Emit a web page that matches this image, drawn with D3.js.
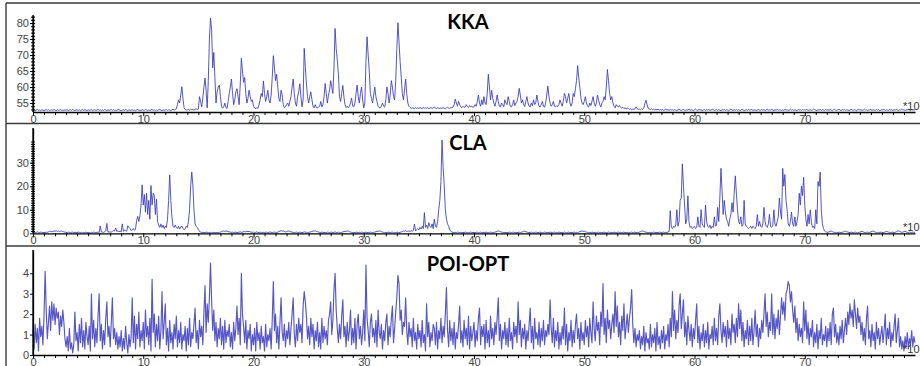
<!DOCTYPE html>
<html><head><meta charset="utf-8">
<script src="https://cdn.jsdelivr.net/npm/d3@7"></script>
<style>body{margin:0;background:#fff;overflow:hidden} svg{display:block}</style>
</head><body>
<svg id="chart" width="920" height="366"></svg>
<script>
// ---- data (x sampled from 0 to 80 in steps of 0.1, x-axis unit = *10^3) ----
const xStart = 0, xStep = 0.1;
const xTickLabels = [0,10,20,30,40,50,60,70];
const titles = ["KKA","CLA","POI-OPT"];

const kkaValues = [
52.7,52.9,52.6,52.8,53.0,52.7,52.8,52.6,52.9,52.8,
52.6,52.8,53.0,52.7,52.9,52.6,52.8,52.9,52.7,53.0,
52.8,52.6,52.9,52.7,52.8,53.0,52.6,52.8,52.7,52.9,
52.7,52.9,52.6,52.8,52.9,52.7,53.0,52.8,52.6,52.9,
52.8,52.7,52.9,52.6,52.8,53.0,52.7,52.9,52.8,52.6,
52.9,52.7,52.8,53.0,52.6,52.8,52.9,52.7,52.8,53.0,
52.7,52.9,52.6,52.8,52.7,53.0,52.8,52.6,52.9,52.7,
52.8,53.0,52.7,52.9,52.6,52.8,52.7,52.9,53.0,52.7,
52.6,52.8,52.9,52.7,53.0,52.8,52.6,52.9,52.7,52.8,
52.9,52.7,52.8,52.6,52.9,53.0,52.7,52.8,52.6,52.9,
52.8,52.7,53.0,52.8,52.6,52.9,52.7,52.8,53.0,52.7,
52.9,52.6,52.8,52.7,52.9,53.0,52.8,52.6,52.9,52.7,
52.8,53.0,52.7,52.9,52.8,52.6,52.9,53.1,52.8,53.0,
53.2,54.5,56.0,55.0,57.5,60.1,56.5,53.6,53.0,52.8,
52.9,53.0,52.8,53.1,52.9,53.0,52.8,53.0,53.2,52.9,
53.1,57.0,55.5,53.8,56.5,59.8,62.8,59.0,53.5,62.0,
75.0,81.5,78.0,66.0,70.8,63.0,55.0,58.5,60.0,60.6,
57.0,54.0,53.4,53.8,55.0,53.6,53.3,55.5,58.0,60.0,
62.5,58.0,54.5,56.0,58.5,59.5,57.0,54.5,61.0,69.0,
65.0,61.5,63.0,58.0,55.0,56.5,59.0,57.0,55.5,56.0,
54.0,53.4,53.2,53.6,53.3,54.5,56.0,58.0,57.0,61.9,
58.0,55.5,57.0,59.0,56.0,55.0,57.5,63.0,69.8,66.0,
62.0,64.0,60.0,56.5,55.5,59.0,57.5,54.5,53.5,53.8,
54.5,55.0,54.0,55.5,57.0,60.0,62.5,58.0,55.0,54.0,
57.0,58.5,61.0,57.0,53.8,56.0,72.1,66.4,61.0,57.0,
55.0,57.0,58.5,56.0,54.0,53.5,54.5,53.6,53.4,53.8,
54.0,55.5,53.8,54.5,57.0,61.1,58.0,55.0,57.5,59.0,
62.0,60.0,58.0,66.0,78.3,72.0,68.4,64.0,57.0,55.5,
58.0,60.5,57.0,54.5,53.6,54.0,53.5,54.0,55.0,56.5,
54.0,53.8,55.0,58.0,60.6,57.0,55.0,58.0,60.0,56.0,
53.5,55.0,68.0,75.7,70.0,65.0,58.0,56.5,55.0,57.5,
60.0,57.0,55.5,54.0,53.6,53.5,54.0,55.0,54.0,53.7,
56.0,60.0,58.0,55.0,57.5,62.0,60.0,57.0,56.0,62.0,
72.0,80.1,74.0,68.0,63.0,58.0,56.0,59.0,62.5,58.0,
55.0,54.0,53.6,53.3,53.5,53.4,53.2,53.6,53.3,53.5,
53.3,53.6,53.4,53.2,53.7,53.4,53.5,53.3,53.6,53.2,
53.4,53.6,53.3,53.5,53.8,53.4,53.2,53.6,53.4,53.3,
53.5,53.3,53.6,53.4,53.2,53.5,53.7,53.4,53.3,53.6,
53.5,53.8,54.5,56.2,55.0,54.0,55.5,54.5,53.8,53.6,
54.0,53.6,53.8,54.5,53.9,53.6,54.2,53.8,54.0,53.7,
53.8,54.5,54.0,55.5,57.5,55.0,54.0,56.0,54.5,57.0,
55.0,54.5,58.0,64.0,60.0,56.0,59.0,56.5,55.0,54.0,
55.5,57.5,55.5,54.0,53.8,55.0,54.5,53.8,56.0,55.0,
54.5,57.0,55.5,54.0,53.8,54.5,56.0,54.2,55.0,55.5,
57.0,59.6,57.5,55.0,56.0,54.5,53.9,55.5,57.0,55.0,
54.0,53.8,55.0,54.2,56.0,54.5,55.0,57.5,55.5,54.0,
53.8,54.5,55.5,54.0,53.7,55.0,57.5,60.3,57.0,55.0,
54.0,54.5,55.5,54.0,53.8,54.2,53.9,54.5,56.0,55.0,
54.0,55.5,58.0,57.0,55.0,56.5,58.0,55.0,54.0,55.0,
58.0,57.0,59.5,62.0,66.7,63.0,60.0,56.5,55.0,54.5,
55.5,57.0,55.0,54.0,53.8,55.0,54.2,55.5,57.0,55.0,
54.0,55.0,57.5,56.0,54.5,53.8,55.0,55.5,57.0,56.0,
60.0,65.5,62.0,58.0,56.0,57.0,55.0,54.0,53.5,54.5,
54.0,53.8,54.2,53.6,53.4,53.7,53.3,53.5,53.2,53.4,
53.3,53.0,53.2,52.9,53.1,53.0,53.2,53.8,53.3,53.0,
53.1,52.9,53.2,53.0,53.5,54.8,55.9,54.5,53.4,53.2,
53.0,53.2,52.9,53.1,52.8,53.0,52.9,53.1,52.8,53.0,
52.8,53.0,52.7,52.9,53.1,52.8,52.9,52.7,53.0,52.8,
52.9,52.7,53.0,52.8,52.6,52.9,53.1,52.8,52.7,52.9,
53.0,52.8,52.7,52.9,52.8,53.1,52.7,52.9,52.8,52.6,
52.9,53.1,52.8,52.7,53.0,52.8,52.9,52.6,52.8,53.0,
52.7,52.9,52.8,53.0,52.7,52.8,53.1,52.9,52.7,52.8,
53.0,52.7,52.9,52.8,52.6,52.9,52.8,53.0,52.7,52.9,
52.8,52.6,52.9,53.1,52.8,52.7,52.9,52.8,53.0,52.7,
52.9,52.8,52.7,53.0,52.9,52.6,52.8,52.9,52.7,53.1,
52.8,52.9,53.0,52.7,52.8,52.9,52.6,52.8,53.0,52.8,
52.7,53.0,52.8,52.9,52.7,52.8,53.1,52.7,52.9,52.8,
53.0,52.8,52.6,52.9,52.8,53.0,52.7,52.9,52.8,52.7,
52.9,52.7,53.0,52.8,52.9,52.7,52.8,53.1,52.8,52.9,
52.7,52.9,52.8,52.6,53.0,52.8,52.9,52.7,53.0,52.8,
52.9,52.8,53.0,52.7,52.8,52.9,52.7,52.8,53.1,52.9,
52.8,52.6,52.9,52.8,53.0,52.7,52.9,52.8,52.7,53.0,
52.8,52.9,52.7,53.0,52.8,52.6,52.9,53.0,52.8,52.7,
52.9,53.1,52.8,52.7,52.9,52.8,53.0,52.7,52.9,52.8,
52.7,52.8,53.0,52.9,52.7,52.9,52.8,52.6,52.9,53.0,
52.8,52.9,52.7,52.8,53.1,52.8,52.9,52.7,52.8,52.9,
53.0,52.7,52.9,52.8,52.7,53.0,52.8,52.9,52.6,52.8,
52.9,52.8,53.0,52.7,52.9,52.8,52.7,53.0,52.8,52.9,
52.7,52.9,52.8,53.0,52.8,52.7,52.9,52.8,53.1,52.8,
52.9,52.7,52.8,52.9,53.0,52.8,52.7,52.9,52.8,52.9,
52.8];

const claValues = [
0.4,0.5,0.3,0.4,0.6,0.4,0.3,0.5,0.4,0.3,
0.4,0.3,0.5,0.4,0.6,0.8,0.9,0.7,0.8,1.0,
0.9,1.1,0.8,1.0,0.7,0.9,1.0,0.8,0.6,0.5,
0.4,0.3,0.5,0.4,0.3,0.4,0.5,0.3,0.4,0.4,
0.3,0.5,0.4,0.3,0.4,0.2,0.4,0.3,0.5,0.3,
0.4,0.3,0.2,0.4,0.3,0.5,0.4,0.3,0.4,0.5,
0.4,3.1,0.6,0.5,0.4,0.7,1.0,4.2,0.6,0.5,
0.6,0.5,0.8,1.2,0.9,2.2,0.8,1.0,0.7,0.9,
0.6,4.0,0.8,1.5,1.0,0.9,3.2,2.5,2.0,1.2,
1.5,2.0,1.2,1.8,5.5,7.2,5.0,7.5,12.0,20.6,
12.0,16.5,9.0,17.0,8.0,14.0,6.0,20.3,12.0,17.0,
16.0,8.0,14.5,5.0,3.5,2.5,4.0,2.5,3.5,2.0,
3.0,2.5,6.0,14.0,24.8,14.0,7.0,3.0,2.5,3.5,
2.5,2.0,3.0,1.8,2.8,3.0,2.2,1.5,2.0,3.0,
2.5,5.0,10.0,20.0,26.0,20.5,10.0,4.0,3.0,2.5,
1.5,0.8,0.5,0.4,0.3,0.4,0.3,0.5,0.4,0.3,
0.3,0.4,0.2,0.3,0.4,0.3,0.2,0.4,0.3,0.4,
0.5,0.7,0.9,1.0,0.8,1.0,0.9,0.7,0.6,0.5,
0.4,0.5,0.3,0.4,0.5,0.3,0.4,0.5,0.6,0.4,
0.5,0.7,0.8,0.6,0.9,0.7,0.8,0.6,0.5,0.4,
0.5,0.3,0.4,0.6,0.4,0.3,0.5,0.4,0.3,0.4,
0.3,0.4,0.5,0.3,0.4,0.6,0.4,0.3,0.4,0.5,
0.4,0.3,0.5,0.7,0.9,1.1,0.9,1.0,0.8,0.6,
0.7,0.9,1.0,0.8,0.6,0.5,0.4,0.3,0.4,0.5,
0.4,0.3,0.5,0.4,0.3,0.4,0.6,0.5,0.4,0.3,
0.4,0.5,0.6,0.8,1.0,0.9,1.1,0.8,0.7,0.5,
0.4,0.3,0.5,0.4,0.3,0.4,0.3,0.5,0.4,0.3,
0.4,0.5,0.3,0.4,0.6,0.4,0.3,0.5,0.4,0.3,
0.4,0.6,0.7,0.9,0.8,1.0,0.9,0.7,0.5,0.4,
0.3,0.4,0.3,0.5,0.4,0.3,0.4,0.3,0.5,0.4,
0.3,0.4,0.5,0.3,0.4,0.3,0.5,0.4,0.3,0.4,
0.5,0.7,0.9,0.8,1.0,0.9,0.7,0.5,0.4,0.3,
0.4,0.3,0.5,0.4,0.3,0.4,0.5,0.3,0.4,0.3,
0.4,0.5,0.3,0.4,0.6,0.8,1.0,0.9,1.1,0.8,
0.9,1.0,0.8,1.1,0.9,1.2,3.9,1.0,1.5,2.0,
1.5,2.5,1.8,3.0,2.0,8.8,2.5,3.5,2.0,4.5,
3.0,2.5,4.0,2.0,6.0,3.0,2.5,5.0,10.0,14.0,
22.0,39.7,28.0,20.5,10.0,6.0,4.0,3.0,1.5,0.8,
0.5,0.4,0.3,0.4,0.3,0.5,0.4,0.3,0.4,0.3,
0.4,0.3,0.5,0.4,0.3,0.4,0.3,0.5,0.4,0.3,
0.4,0.3,0.4,0.5,0.3,0.4,0.5,0.3,0.4,0.3,
0.4,0.5,0.3,0.4,0.3,0.5,0.4,0.3,0.4,0.5,
0.6,0.8,1.0,0.9,0.7,0.5,0.4,0.3,0.4,0.3,
0.4,0.3,0.5,0.4,0.3,0.4,0.5,0.3,0.4,0.3,
0.4,0.5,0.3,0.4,0.6,0.8,0.9,0.7,0.5,0.4,
0.3,0.4,0.5,0.3,0.4,0.3,0.5,0.4,0.3,0.4,
0.5,0.3,0.4,0.3,0.5,0.4,0.3,0.4,0.3,0.5,
0.4,0.3,0.4,0.5,0.3,0.4,0.3,0.5,0.4,0.3,
0.4,0.3,0.5,0.4,0.3,0.4,0.5,0.3,0.4,0.3,
0.4,0.5,0.3,0.4,0.3,0.5,0.7,0.9,1.0,0.8,
0.9,0.7,0.5,0.4,0.3,0.4,0.3,0.5,0.4,0.3,
0.4,0.3,0.4,0.5,0.3,0.4,0.3,0.4,0.5,0.3,
0.4,0.3,0.5,0.4,0.3,0.4,0.3,0.5,0.4,0.3,
0.4,0.5,0.3,0.4,0.3,0.4,0.5,0.3,0.4,0.3,
0.4,0.3,0.4,0.5,0.3,0.4,0.5,0.3,0.4,0.3,
0.5,0.7,0.9,1.0,0.8,0.6,0.5,0.4,0.3,0.4,
0.3,0.4,0.3,0.5,0.4,0.3,0.4,0.3,0.5,0.4,
0.3,0.4,0.5,0.3,0.4,0.3,0.6,0.8,9.6,2.5,
2.0,3.0,2.5,3.5,10.0,3.0,5.0,14.0,15.0,29.5,
20.0,12.0,4.0,6.0,15.9,5.0,2.5,3.0,2.0,2.5,
3.0,2.0,2.5,7.0,3.0,2.5,10.0,4.0,3.0,2.5,
12.0,5.0,3.0,2.5,3.5,2.0,3.0,2.5,7.0,3.0,
3.5,11.0,5.0,15.0,27.6,18.0,8.0,14.0,9.0,6.0,
5.0,3.0,6.0,8.0,13.0,9.0,17.0,24.4,17.0,10.0,
5.0,4.0,7.0,3.0,3.5,14.0,4.0,3.0,2.5,2.0,
2.5,3.0,2.0,3.0,2.5,2.0,3.0,8.0,3.0,5.0,
3.0,2.5,4.0,11.0,5.0,3.0,2.5,4.0,8.0,3.0,
2.5,3.0,10.0,4.0,3.0,5.0,7.0,15.0,9.0,6.0,
27.6,20.0,25.0,14.0,10.0,4.0,3.0,5.0,9.0,4.0,
3.0,7.0,3.0,5.0,8.0,17.0,12.0,20.0,16.0,23.8,
12.0,6.0,3.0,8.0,4.0,10.0,5.0,2.5,3.0,2.0,
10.0,4.0,22.0,20.0,26.0,10.0,4.0,2.0,1.0,0.6,
0.5,0.4,0.6,0.8,1.0,0.7,0.5,0.4,0.3,0.4,
0.3,0.5,0.4,0.3,0.4,0.6,0.8,0.9,0.7,0.5,
0.4,0.3,0.5,0.4,0.3,0.4,0.5,0.3,0.4,0.3,
0.5,0.7,0.8,0.6,0.4,0.3,0.4,0.5,0.3,0.4,
0.6,0.8,1.0,0.7,0.5,0.4,0.3,0.4,0.3,0.5,
0.4,0.3,0.4,0.6,0.8,0.7,0.5,0.4,0.3,0.4,
0.5,0.3,0.4,0.6,0.9,1.0,0.8,0.6,0.4,0.5,
0.7,0.9,0.6,0.4,0.3,0.5,0.4,0.3,0.5,0.4,
0.4];

const poiValues = [
1.2,0.3,1.5,0.6,1.3,0.2,1.8,0.9,1.4,0.5,
1.9,4.1,2.2,0.8,1.6,2.4,1.2,2.6,1.7,2.5,
1.5,2.3,1.8,2.1,1.0,1.9,1.4,2.2,1.6,0.8,
0.4,0.9,0.2,1.3,0.3,0.6,0.1,0.5,2.1,0.7,
1.1,0.2,1.5,0.6,1.8,0.4,1.2,0.3,1.6,0.9,
0.5,1.4,0.2,3.0,0.8,1.7,0.4,1.3,0.6,1.9,
3.0,0.7,1.5,0.3,1.2,0.5,1.8,2.6,0.9,1.4,
0.4,1.6,2.8,0.8,1.3,0.5,1.1,0.3,0.9,0.4,
1.2,0.2,0.8,0.3,1.4,0.6,0.1,1.0,0.4,0.9,
2.8,0.6,1.9,0.3,1.5,0.8,2.1,0.4,1.2,0.7,
1.6,0.3,2.2,0.9,1.4,0.5,1.8,0.2,3.7,1.1,
2.0,0.4,1.5,0.7,1.9,0.3,1.2,3.1,0.8,1.6,
2.5,0.5,1.3,0.2,1.7,0.6,1.1,0.3,1.5,0.8,
1.9,0.4,1.2,0.6,1.6,0.3,1.0,0.7,1.4,0.2,
1.3,0.5,1.8,0.4,1.1,0.8,1.5,2.3,0.6,1.2,
0.3,1.7,0.9,1.4,0.5,2.0,3.4,1.1,2.5,1.6,
2.8,4.5,2.7,1.2,2.2,0.7,1.6,0.4,1.3,0.8,
1.8,0.5,1.4,0.3,1.7,0.6,1.2,0.9,1.5,0.4,
1.1,0.3,1.6,0.7,1.3,2.4,1.0,1.8,0.5,4.0,
2.0,1.4,0.6,1.7,0.3,1.2,0.8,1.5,0.2,1.0,
0.5,1.3,0.2,1.6,0.7,1.1,0.3,1.4,0.6,0.9,
0.2,1.5,0.4,1.0,0.7,1.3,0.3,1.7,3.6,1.2,
2.0,0.6,1.4,0.3,1.6,2.8,1.1,0.7,1.5,0.4,
1.2,0.8,1.6,0.5,1.3,2.0,2.8,1.0,0.4,1.5,
0.7,1.8,1.1,1.5,0.6,2.4,3.1,2.6,1.9,0.8,
1.4,0.5,1.8,0.9,1.5,0.3,1.2,0.7,1.6,0.4,
1.1,0.3,1.8,0.6,1.4,0.8,1.2,0.5,1.7,2.0,
2.6,1.0,1.7,3.2,4.0,2.2,1.3,0.6,1.5,0.8,
1.9,2.7,0.9,1.4,0.4,1.6,0.7,1.2,2.2,0.5,
1.3,0.6,1.8,0.3,1.5,2.0,0.8,1.4,0.5,1.1,
2.2,0.7,4.4,1.8,1.2,0.4,1.6,2.0,0.9,1.3,
0.6,1.7,0.4,2.2,1.1,0.8,1.5,0.3,1.2,0.7,
1.6,2.0,0.5,1.4,0.9,1.8,2.4,0.6,1.3,2.1,
2.8,3.9,3.5,1.7,2.2,1.0,1.6,1.4,2.8,1.2,
0.5,1.6,0.9,1.3,0.4,1.8,0.7,1.1,0.3,1.5,
0.8,1.2,0.4,1.7,0.6,1.0,0.2,2.5,0.9,1.6,
0.4,1.1,0.7,1.5,1.3,0.5,1.6,0.3,1.2,0.8,
1.8,0.6,1.4,0.9,2.0,3.3,1.2,0.4,1.7,0.7,
1.3,0.5,1.6,0.3,1.1,0.8,1.5,2.4,0.6,1.2,
0.4,1.7,0.8,1.3,0.5,1.9,0.3,1.4,0.7,1.1,
1.6,0.4,1.2,0.7,1.8,2.3,0.5,1.4,0.9,1.5,
0.3,1.7,0.6,1.2,0.4,1.9,0.8,1.3,0.5,1.6,
1.0,1.8,2.8,0.7,1.5,0.3,1.2,0.8,1.6,0.5,
1.3,0.4,1.8,0.7,1.1,0.3,1.6,0.9,1.4,0.6,
2.6,1.0,1.7,0.4,1.3,0.8,1.5,0.3,1.2,0.7,
1.5,2.3,0.6,1.4,0.3,1.8,0.8,1.1,0.5,1.6,
0.4,1.3,0.7,1.7,0.5,1.2,0.9,1.5,1.0,2.7,
1.3,0.6,1.8,0.4,1.2,0.7,1.6,0.3,1.1,0.5,
1.4,0.8,2.3,0.5,1.5,0.2,1.1,0.7,1.7,0.4,
1.2,0.6,1.5,2.0,0.8,1.3,0.3,1.6,0.7,1.1,
0.5,1.7,0.9,1.4,0.4,1.8,1.1,0.6,2.6,1.3,
0.7,1.9,1.2,1.6,0.5,2.1,1.4,3.5,1.0,1.8,
0.6,2.2,1.3,1.7,0.8,1.5,2.0,1.1,3.1,1.4,
2.4,0.9,1.6,0.5,1.9,1.2,2.5,0.8,1.4,2.0,
1.1,1.8,2.3,3.2,1.5,0.6,1.3,0.4,1.0,0.7,
1.2,0.3,0.9,0.5,1.4,0.2,1.1,0.6,0.8,0.3,
1.5,0.4,1.0,0.6,1.3,0.2,1.6,0.5,0.9,0.3,
1.2,0.6,1.4,0.3,1.0,0.7,1.5,0.4,1.8,0.9,
3.1,1.2,2.2,0.8,1.7,1.1,2.4,3.0,1.3,2.0,
2.7,0.9,1.6,0.5,1.9,1.2,0.7,1.5,0.4,1.3,
0.8,1.7,2.5,0.6,1.4,0.3,1.1,0.7,1.5,0.4,
1.2,0.6,1.6,0.3,1.0,0.8,1.4,0.5,1.8,0.7,
1.3,0.5,1.9,2.5,1.2,0.6,1.6,0.9,1.4,0.4,
1.7,0.8,1.3,0.5,2.0,1.1,1.5,0.6,1.8,0.9,
2.5,1.3,2.2,0.7,1.6,0.4,1.2,0.8,1.7,0.5,
1.4,0.7,1.8,0.5,1.2,2.2,0.9,1.5,0.4,1.3,
0.8,1.7,1.1,2.0,3.0,1.4,2.1,0.9,1.6,1.2,
3.0,1.0,2.0,0.8,1.8,1.3,2.2,1.0,1.9,2.8,
2.0,2.6,1.7,3.0,3.2,3.6,3.4,2.6,3.1,2.2,
1.6,2.4,1.1,1.8,0.7,1.5,0.9,1.3,0.6,2.6,
1.2,2.2,0.8,1.6,0.5,1.3,0.9,1.7,0.4,1.1,
0.6,1.5,0.3,1.2,0.8,1.8,0.5,1.0,0.7,1.4,
0.4,1.3,0.7,1.6,0.5,2.0,2.3,0.9,1.5,0.6,
1.1,0.5,1.4,0.8,1.7,0.6,1.2,1.8,1.0,2.1,
1.5,2.5,1.8,2.2,1.4,2.7,2.0,1.3,2.3,1.6,
1.9,1.0,1.6,0.7,1.3,0.5,1.8,2.4,0.8,1.2,
0.4,1.5,0.7,1.1,0.3,1.6,0.8,1.3,0.5,1.0,
1.4,0.6,1.2,2.0,0.5,1.3,0.8,1.6,0.4,1.1,
0.7,1.4,2.0,0.6,1.2,1.8,0.4,0.9,0.3,0.7,
0.2,0.9,0.4,1.1,0.3,0.8,0.5,1.2,0.4,0.9,
0.6];

const kkaYTicks = [55,60,65,70,75,80];
const claYTicks = [0,10,20,30];
const poiYTicks = [0,1,2,3,4];

// ---- layout ----
const svg = d3.select("#chart");
const W = 920, H = 366;
const x = d3.scaleLinear().domain([0, 80]).range([33, 915]);

const panels = [
  { title: titles[0], values: kkaValues, domain: [52.2, 82.5], range: [112, 15.04],
    labels: kkaYTicks, minor: d3.range(53, 83), top: 3, titleY: 29, width: 1 },
  { title: titles[1], values: claValues, domain: [0, 44.7], range: [233.3, 128.1],
    labels: claYTicks, minor: d3.range(1, 40), top: 123.5, titleY: 150, width: 1 },
  { title: titles[2], values: poiValues, domain: [0, 5.14], range: [355, 250],
    labels: poiYTicks, minor: [], top: 246, titleY: 270.5, width: 1.15 }
];

const lineColor = "#3838bd";
const frameColor = "#3a3a3a";
const labelColor = "#444";
const fontFam = "'Liberation Sans', Arial, sans-serif";

panels.forEach(p => {
  const y = d3.scaleLinear().domain(p.domain).range(p.range);
  const axisY = p.range[0];
  const g = svg.append("g");

  // data line
  const line = d3.line()
    .x((d, i) => x(xStart + i * xStep))
    .y(d => y(d));
  g.append("path")
    .datum(p.values)
    .attr("d", line)
    .attr("fill", "none")
    .attr("stroke", lineColor)
    .attr("stroke-width", p.width)
    .attr("stroke-opacity", 0.85)
    .attr("stroke-linejoin", "round");

  // x axis minor ticks
  const xMinor = g.append("g").attr("transform", `translate(0,${axisY})`)
    .call(d3.axisBottom(x).tickValues(d3.range(1, 80).filter(v => v % 10 !== 0)).tickSize(3).tickFormat("").tickSizeOuter(0));
  xMinor.select(".domain").remove();
  // x axis major
  const xMajor = g.append("g").attr("transform", `translate(0,${axisY})`)
    .call(d3.axisBottom(x).tickValues(xTickLabels).tickSize(4).tickPadding(-1).tickSizeOuter(0).tickFormat(d3.format("d")));
  xMajor.select(".domain").attr("stroke", "#000").attr("stroke-width", 1.3);
  xMajor.selectAll("text").attr("fill", labelColor)
    .style("font-family", fontFam).style("font-size", "11px");
  g.selectAll(".tick line").attr("stroke", "#000");

  // y axis
  const yAx = g.append("g").attr("transform", `translate(${x(0)},0)`)
    .call(d3.axisLeft(y).tickValues(p.labels).tickSize(3).tickPadding(1).tickSizeOuter(0).tickFormat(d3.format("d")));
  yAx.select(".domain").attr("stroke", "#000").attr("stroke-width", 1.3);
  yAx.selectAll("text").attr("fill", labelColor)
    .style("font-family", fontFam).style("font-size", "11px");
  yAx.selectAll(".tick line").attr("stroke", "#000");
  if (p.minor.length) {
    [d3.axisLeft, d3.axisRight].forEach(fn => {
      const m = g.append("g").attr("transform", `translate(${x(0)},0)`)
        .call(fn(y).tickValues(p.minor).tickSize(2).tickFormat("").tickSizeOuter(0));
      m.select(".domain").remove();
      m.selectAll(".tick line").attr("stroke", "#000");
    });
  }
  // y axis line extends to top of range
  g.append("line").attr("x1", x(0)).attr("x2", x(0))
    .attr("y1", p.range[1]).attr("y2", axisY).attr("stroke", "#000").attr("stroke-width", 1.3);

  // exponent label
  g.append("text").attr("x", x.range()[1] - 12).attr("y", axisY - 2)
    .attr("fill", "#333")
    .style("font-family", fontFam).style("font-size", "11px")
    .text("*10");

  // title
  g.append("text").attr("x", 468).attr("y", p.titleY)
    .attr("text-anchor", "middle")
    .style("font-family", "Lato, 'Open Sans', sans-serif").style("font-weight", "bold").style("font-size", "20px")
    .attr("fill", "#000").text(p.title);

  // frame top
  svg.append("line").attr("x1", 6).attr("x2", W).attr("y1", p.top).attr("y2", p.top)
    .attr("stroke", frameColor).attr("stroke-width", 1.4);
});
// frame left
svg.append("line").attr("x1", 6).attr("x2", 6).attr("y1", 3).attr("y2", H)
  .attr("stroke", frameColor).attr("stroke-width", 1.4);
</script>
</body></html>
